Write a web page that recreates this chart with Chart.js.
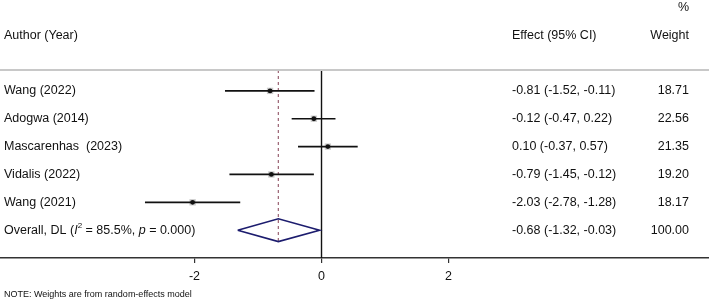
<!DOCTYPE html>
<html>
<head>
<script src="https://cdn.jsdelivr.net/npm/chart.js"></script>
<style>
  html, body { margin: 0; padding: 0; background: white; }
  #wrap { width: 709px; height: 301px; }
</style>
</head>
<body>
<div id="wrap"><canvas id="forest" width="709" height="301"></canvas></div>
<script>
// study data
const studies = ['Wang (2022)', 'Adogwa (2014)', 'Mascarenhas  (2023)', 'Vidalis (2022)', 'Wang (2021)'];
const effects = [-0.81, -0.12, 0.10, -0.79, -2.03];
const lower = [-1.52, -0.47, -0.37, -1.45, -2.78];
const upper = [-0.11, 0.22, 0.57, -0.12, -1.28];
const weights = ['18.71', '22.56', '21.35', '19.20', '18.17'];

const overall = { es: -0.68, lo: -1.32, hi: -0.03, i2: '85.5%', p: '0.000', w: '100.00' };
const xTicks = [-2, 0, 2];

const FONT = '"Liberation Sans", Arial, sans-serif';
const FS = '12.5px ';
const rows = studies.map((s, i) => i + 1);
const overallRow = studies.length + 1;

const ciSets = studies.map((s, i) => ({
  type: 'line',
  data: [{ x: lower[i], y: rows[i] }, { x: upper[i], y: rows[i] }],
  borderColor: '#111', borderWidth: 1.7, pointRadius: 0, order: 3
}));

const fmt = v => v.toFixed(2);

const textPlugin = {
  id: 'forestText',
  afterDraw(chart) {
    const ctx = chart.ctx;
    const ya = chart.scales.y;
    const area = chart.chartArea;
    ctx.save();
    // header separator
    ctx.strokeStyle = '#c8c8c8';
    ctx.lineWidth = 2;
    ctx.beginPath();
    ctx.moveTo(0, area.top); ctx.lineTo(709, area.top);
    ctx.stroke();

    ctx.fillStyle = '#111';
    ctx.font = FS + FONT;
    ctx.textBaseline = 'middle';
    ctx.textAlign = 'left';
    ctx.fillText('Author (Year)', 4, 36);
    ctx.fillText('Effect (95% CI)', 512, 36);
    ctx.textAlign = 'right';
    ctx.fillText('Weight', 689, 36);
    ctx.fillText('%', 689, 8);

    studies.forEach((s, i) => {
      const y = ya.getPixelForValue(rows[i]);
      ctx.textAlign = 'left';
      ctx.fillText(s, 4, y);
      ctx.fillText(fmt(effects[i]) + ' (' + fmt(lower[i]) + ', ' + fmt(upper[i]) + ')', 512, y);
      ctx.textAlign = 'right';
      ctx.fillText(weights[i], 689, y);
    });

    // overall row with italic I, superscript 2, italic p
    const y = ya.getPixelForValue(overallRow);
    ctx.textAlign = 'left';
    let x = 4;
    const part = (t, f, dy) => {
      ctx.font = f;
      ctx.fillText(t, x, y + (dy || 0));
      x += ctx.measureText(t).width;
    };
    part('Overall, DL (', FS + FONT);
    part('I', 'italic ' + FS + FONT);
    part('2', '8px ' + FONT, -4);
    part(' = ' + overall.i2 + ', ', FS + FONT);
    part('p', 'italic ' + FS + FONT);
    part(' = ' + overall.p + ')', FS + FONT);
    ctx.font = FS + FONT;
    ctx.fillText(fmt(overall.es) + ' (' + fmt(overall.lo) + ', ' + fmt(overall.hi) + ')', 512, y);
    ctx.textAlign = 'right';
    ctx.fillText(overall.w, 689, y);

    ctx.textAlign = 'left';
    ctx.font = '9px ' + FONT;
    ctx.fillText('NOTE: Weights are from random-effects model', 4, 295);
    ctx.restore();
  }
};

new Chart(document.getElementById('forest'), {
  type: 'scatter',
  data: {
    datasets: [
      {
        type: 'line',
        data: [{ x: 0, y: 0.25 }, { x: 0, y: 7 }],
        borderColor: '#111', borderWidth: 1.4, pointRadius: 0, order: 5
      },
      {
        type: 'line',
        data: [{ x: overall.es, y: 0.25 }, { x: overall.es, y: overallRow + 0.42 }],
        borderColor: '#9a6272', borderWidth: 1.2, borderDash: [3, 3], pointRadius: 0, order: 6
      },
      ...ciSets,
      {
        data: effects.map((e, i) => ({ x: e, y: rows[i] })),
        pointStyle: 'rect', pointRadius: 4.5, backgroundColor: '#cccccc', borderWidth: 0, order: 4
      },
      {
        data: effects.map((e, i) => ({ x: e, y: rows[i] })),
        pointStyle: 'circle', pointRadius: 2.4, backgroundColor: '#111', borderWidth: 0, order: 1
      },
      {
        type: 'line',
        data: [
          { x: overall.lo, y: overallRow }, { x: overall.es, y: overallRow - 0.41 },
          { x: overall.hi, y: overallRow }, { x: overall.es, y: overallRow + 0.41 },
          { x: overall.lo, y: overallRow }
        ],
        borderColor: '#1c1c6e', borderWidth: 1.6, pointRadius: 0, fill: false, order: 2
      }
    ]
  },
  options: {
    responsive: false,
    animation: false,
    layout: { autoPadding: false, padding: { left: 0, right: 0, top: 70, bottom: 18 } },
    plugins: { legend: { display: false }, tooltip: { enabled: false } },
    scales: {
      x: {
        type: 'linear', min: -5.063, max: 6.102,
        afterBuildTicks(s) { s.ticks = xTicks.map(v => ({ value: v })); },
        afterFit(s) { s.height = 25; s.paddingLeft = 0; s.paddingRight = 0; },
        grid: { drawOnChartArea: false, drawTicks: true, tickLength: 5, color: '#333', lineWidth: 1.2 },
        border: { display: true, color: '#333', width: 1.6 },
        ticks: { color: '#111', padding: 6, font: { family: FONT, size: 12.5 } }
      },
      y: { type: 'linear', reverse: true, min: 0.25, max: 7, display: false }
    }
  },
  plugins: [textPlugin]
});
</script>
</body>
</html>
